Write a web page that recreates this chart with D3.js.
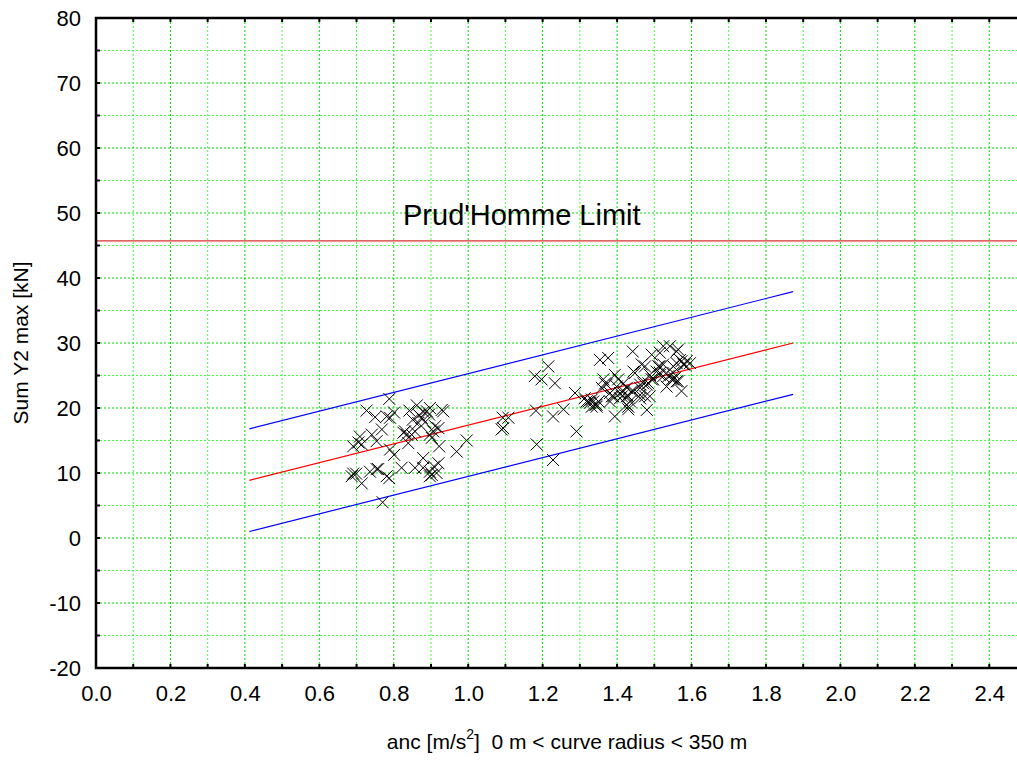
<!DOCTYPE html>
<html>
<head>
<meta charset="utf-8">
<script src="https://cdn.jsdelivr.net/npm/d3@7"></script>
<style>
  body { margin: 0; background: #fff; }
  svg { display: block; }
  text { font-family: "Liberation Sans", Arial, sans-serif; fill: #000; }
</style>
</head>
<body>
<svg width="1017" height="760"></svg>
<script>
//  Tick labels
const xTickValues = [0.0, 0.2, 0.4, 0.6, 0.8, 1.0, 1.2, 1.4, 1.6, 1.8, 2.0, 2.2, 2.4];
const yTickValues = [-20, -10, 0, 10, 20, 30, 40, 50, 60, 70, 80];

//  Prud'Homme limit [kN]
const limitValue = 45.7;
const limitLabel = "Prud'Homme Limit";

//  Regression line and band, given by end points
const fitX = [0.412, 1.873];
const fitMid = [8.86, 30.0];
const fitUpper = [16.8, 37.9];
const fitLower = [1.0, 22.1];

//  Measured points [anc, Sum Y2 max]
const measurements = [
  [0.788, 21.4], [0.727, 19.6], [0.750, 18.6], [0.781, 18.7], [0.790, 18.5],
  [0.801, 19.3], [0.842, 19.6], [0.862, 20.4], [0.851, 18.2], [0.866, 17.7],
  [0.875, 18.5], [0.889, 19.5], [0.895, 19.0], [0.897, 20.0], [0.929, 19.7],
  [0.933, 19.5], [0.911, 17.2], [0.768, 16.7], [0.741, 15.9], [0.754, 14.9],
  [0.709, 15.6], [0.705, 14.7], [0.691, 14.1], [0.714, 14.4], [0.790, 13.6],
  [0.801, 12.8], [0.826, 16.2], [0.835, 15.9], [0.848, 15.9], [0.839, 14.6],
  [0.857, 16.4], [0.897, 15.9], [0.902, 15.4], [0.920, 16.9], [0.922, 14.1],
  [0.879, 12.3], [0.969, 13.3], [0.996, 15.0], [0.691, 9.9], [0.687, 9.5],
  [0.699, 9.9], [0.714, 8.4], [0.736, 10.2], [0.754, 10.6], [0.781, 9.5],
  [0.788, 9.2], [0.821, 10.8], [0.857, 10.8], [0.879, 10.8], [0.897, 10.2],
  [0.908, 11.0], [0.920, 11.5], [0.915, 10.0], [0.897, 9.5], [0.770, 5.5],
  [0.830, 16.4], [0.868, 18.9], [0.880, 19.4], [0.884, 17.8], [0.906, 16.4],
  [0.758, 10.6], [0.902, 9.7],
  [1.093, 18.5], [1.108, 18.5], [1.090, 16.7], [1.094, 16.9], [1.182, 19.6],
  [1.184, 14.4], [1.228, 12.0], [1.228, 18.7], [1.256, 19.8], [1.291, 16.4],
  [1.287, 22.3], [1.179, 24.9], [1.197, 24.4], [1.215, 26.4], [1.233, 23.8],
  [1.354, 27.4], [1.376, 27.7], [1.442, 28.7], [1.394, 18.7], [1.480, 19.7],
  [1.313, 21.5], [1.323, 21.0], [1.332, 21.3], [1.345, 20.5], [1.318, 21.0],
  [1.363, 24.4], [1.372, 23.6], [1.399, 23.3], [1.417, 22.6], [1.426, 21.8],
  [1.435, 21.0], [1.430, 20.2], [1.408, 21.5], [1.386, 21.8], [1.462, 23.1],
  [1.480, 23.6], [1.493, 28.2], [1.466, 26.7], [1.475, 26.4], [1.515, 26.4],
  [1.488, 25.1], [1.497, 24.4], [1.515, 25.4], [1.524, 29.5], [1.542, 29.5],
  [1.515, 28.5], [1.560, 28.7], [1.551, 26.4], [1.560, 26.9], [1.573, 27.2],
  [1.578, 26.7], [1.587, 27.2], [1.596, 26.9], [1.538, 24.9], [1.551, 24.4],
  [1.560, 24.1], [1.573, 22.6], [1.462, 21.5], [1.444, 22.6], [1.564, 29.0],
  [1.569, 27.4], [1.582, 26.7], [1.444, 25.6], [1.448, 25.4], [1.506, 25.6],
  [1.515, 25.1], [1.524, 24.9], [1.551, 25.4], [1.555, 24.6], [1.547, 24.4],
  [1.564, 24.1], [1.368, 23.8], [1.359, 23.1], [1.381, 22.3], [1.394, 25.1],
  [1.403, 24.4], [1.417, 23.8], [1.426, 23.1], [1.439, 22.6], [1.430, 21.8],
  [1.408, 22.3], [1.413, 21.8], [1.390, 21.8], [1.381, 21.0], [1.462, 23.6],
  [1.470, 23.8], [1.484, 23.8], [1.493, 24.4], [1.462, 22.0], [1.475, 21.8],
  [1.488, 21.8], [1.426, 20.5], [1.430, 19.8], [1.336, 21.0], [1.341, 20.5],
  [1.345, 20.2], [1.332, 20.2], [1.533, 23.3], [1.511, 26.4], [1.524, 26.7],
  [1.327, 20.8], [1.350, 21.0]
];

const svg = d3.select('svg');

//  Plot frame: the right edge of the axis runs past the window
const x = d3.scaleLinear().domain([0, 2.5]).range([96, 1026.5]);
const y = d3.scaleLinear().domain([-20, 80]).range([668, 18]);

const grid = svg.append('g').attr('id', 'grid');
const marks = svg.append('g').attr('id', 'marks');
const axes = svg.append('g').attr('id', 'axes');

//======================================================
//  Grid (major at labels, minor in between)
//======================================================
const xGrid = d3.range(1, 25).map(i => i / 10);
const yGrid = d3.range(-15, 80, 5);

grid.selectAll('line.vx')
    .data(xGrid)
    .join('line')
    .attr('class', 'vx')
    .attr('x1', d => x(d)).attr('x2', d => x(d))
    .attr('y1', y(80)).attr('y2', y(-20))
    .attr('stroke', (d, i) => i % 2 ? '#00e000' : '#40ff40')
    .attr('stroke-width', 1)
    .attr('stroke-dasharray', '2,2');

grid.selectAll('line.hy')
    .data(yGrid)
    .join('line')
    .attr('class', 'hy')
    .attr('x1', x(0)).attr('x2', 1017)
    .attr('y1', d => y(d)).attr('y2', d => y(d))
    .attr('stroke', d => d % 10 === 0 ? '#00e000' : '#40ff40')
    .attr('stroke-width', 1)
    .attr('stroke-dasharray', '2,2');

//======================================================
//  Limit line and its label
//======================================================
marks.append('line')
    .attr('x1', x(0)).attr('x2', 1017)
    .attr('y1', y(limitValue)).attr('y2', y(limitValue))
    .attr('stroke', '#d83030')
    .attr('stroke-width', 1.2);

marks.append('text')
    .attr('x', 403)
    .attr('y', y(limitValue) - 16)
    .attr('font-size', 29)
    .text(limitLabel);

//======================================================
//  Fit line and band
//======================================================
const fitLine = d3.line().x(d => x(d[0])).y(d => y(d[1]));
[[fitUpper, '#0000ff'], [fitMid, '#ff0000'], [fitLower, '#0000ff']].forEach(([vals, col]) => {
    marks.append('path')
        .attr('d', fitLine(fitX.map((v, i) => [v, vals[i]])))
        .attr('fill', 'none')
        .attr('stroke', col)
        .attr('stroke-width', 1.2);
});

//======================================================
//  Scatter crosses
//======================================================
const r = 6;
marks.selectAll('path.pt')
    .data(measurements)
    .join('path')
    .attr('class', 'pt')
    .attr('d', d => {
        const cx = x(d[0]), cy = y(d[1]);
        return `M${cx - r},${cy - r}L${cx + r},${cy + r}M${cx - r},${cy + r}L${cx + r},${cy - r}`;
    })
    .attr('stroke', '#000')
    .attr('stroke-width', 1)
    .attr('fill', 'none');

//======================================================
//  Axes
//======================================================
const xAxis = axes.append('g')
    .attr('transform', `translate(0,${y(-20)})`)
    .call(d3.axisBottom(x).tickValues(xTickValues).tickFormat(d => d.toFixed(1)).tickSize(0).tickPadding(17));
const yAxis = axes.append('g')
    .attr('transform', `translate(${x(0)},0)`)
    .call(d3.axisLeft(y).tickValues(yTickValues).tickFormat(d => String(d)).tickSize(0).tickPadding(15));

[xAxis, yAxis].forEach(g => {
    g.select('.domain').remove();
    g.selectAll('text').attr('font-size', 22).attr('font-family', '"Liberation Sans", Arial, sans-serif');
});

//  Small inward ticks at every grid line
axes.selectAll('line.tb')
    .data(xGrid)
    .join('line')
    .attr('class', 'tb')
    .attr('x1', d => x(d)).attr('x2', d => x(d))
    .attr('y1', y(-20)).attr('y2', y(-20) - 4)
    .attr('stroke', '#000').attr('stroke-width', 2);
axes.selectAll('line.tt')
    .data(xGrid)
    .join('line')
    .attr('class', 'tt')
    .attr('x1', d => x(d)).attr('x2', d => x(d))
    .attr('y1', y(80)).attr('y2', y(80) + 4)
    .attr('stroke', '#000').attr('stroke-width', 2);
axes.selectAll('line.tl')
    .data(yGrid)
    .join('line')
    .attr('class', 'tl')
    .attr('x1', x(0)).attr('x2', x(0) + 4)
    .attr('y1', d => y(d)).attr('y2', d => y(d))
    .attr('stroke', '#000').attr('stroke-width', 2);

//  Frame lines: left, bottom, top
axes.append('path')
    .attr('d', `M1017,${y(80)}H${x(0)}V${y(-20)}H1017`)
    .attr('fill', 'none')
    .attr('stroke', '#000')
    .attr('stroke-width', 2.5);

//  Axis titles
svg.append('text')
    .attr('transform', `translate(28,${(y(80) + y(-20)) / 2}) rotate(-90)`)
    .attr('text-anchor', 'middle')
    .attr('font-size', 21)
    .text('Sum Y2 max [kN]');

const xTitle = svg.append('text')
    .attr('x', 567)
    .attr('y', 749)
    .attr('text-anchor', 'middle')
    .attr('font-size', 21);
xTitle.append('tspan').text('anc [m/s');
xTitle.append('tspan').attr('font-size', 14).attr('dy', -10).text('2');
xTitle.append('tspan').attr('dy', 10).attr('xml:space', 'preserve').text(']  0 m < curve radius < 350 m');
</script>
</body>
</html>
